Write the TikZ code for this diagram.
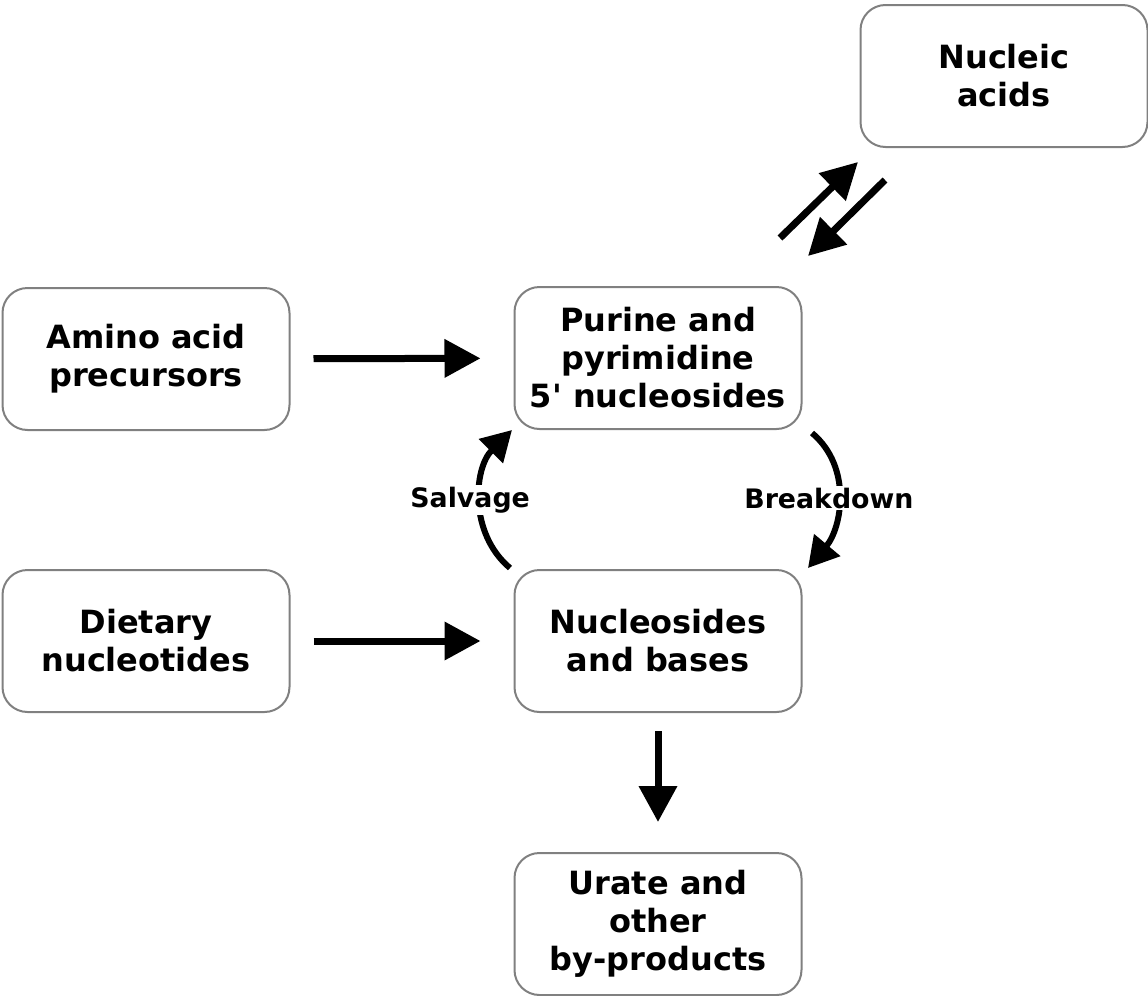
\documentclass[tikz,border=0pt]{standalone}
\usepackage{fontspec}
\setmainfont{DejaVu Sans}
\usetikzlibrary{arrows.meta,positioning}
\definecolor{boxgray}{RGB}{128,128,128}
\tikzstyle{box}=[rectangle,rounded corners=12.5pt,draw=boxgray,line width=1pt,minimum width=143.5pt,minimum height=71pt,align=center,font=\bfseries\fontsize{16}{19}\selectfont]
\tikzstyle{fat}=[line width=3.5pt,-{Triangle[length=18pt,width=18.5pt]}]
\tikzstyle{bent}=[line width=3pt,-{Triangle[length=15pt,width=16.5pt]}]
\tikzstyle{lbl}=[fill=white,inner sep=1pt,font=\bfseries\fontsize{13.4}{15}\selectfont]
\begin{document}
\begin{tikzpicture}[x=0.5pt,y=0.5pt]
\useasboundingbox (0,0) rectangle (1148,-996);
\node[box] (N) at (1004,-76) {Nucleic\\acids};
\node[box] (A) at (146,-359) {Amino acid\\precursors};
\node[box] (P) at (658,-358) {Purine and\\pyrimidine\\5\textquotesingle{} nucleosides};
\node[box] (D) at (146,-641) {Dietary\\nucleotides};
\node[box] (S) at (658,-641) {Nucleosides\\and bases};
\node[box] (U) at (658,-924) {Urate and\\other\\by-products};
% free ends of the short arrows
\coordinate (a1) at (780,-238);
\coordinate (a2) at (858,-162);
\coordinate (b1) at (885,-180);
\coordinate (b2) at (808,-256);
\coordinate (s1) at (510,-568);
\coordinate (s2) at (512,-430);
\coordinate (k1) at (812,-433);
\coordinate (k2) at (808,-568);
\path[fat]
(A) edge[shorten <=11.5pt,shorten >=16.5pt] (P)
(D) edge[shorten <=11.5pt,shorten >=16.5pt] (S)
(S) edge[shorten <=9pt,shorten >=15pt] (U)
(a1) edge (a2)
(b1) edge (b2);
\draw[bent] (s1) to[out=140,in=-135] node[lbl,pos=0.5,xshift=-5.5pt]{Salvage} (s2);
\draw[bent] (k1) to[out=-40,in=50] node[lbl,pos=0.5,xshift=-4.5pt]{Breakdown} (k2);
\end{tikzpicture}
\end{document}
